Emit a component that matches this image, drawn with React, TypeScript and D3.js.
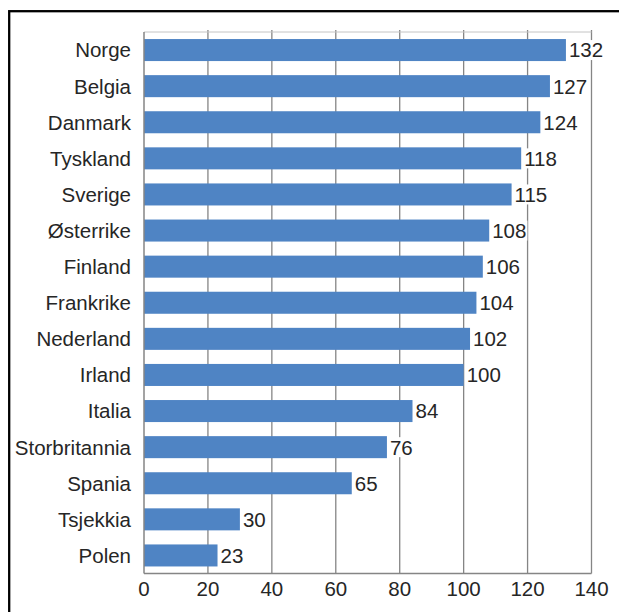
import React, { useEffect, useRef } from 'react';
import * as d3 from 'd3';

const countries = [
  'Norge',
  'Belgia',
  'Danmark',
  'Tyskland',
  'Sverige',
  'Østerrike',
  'Finland',
  'Frankrike',
  'Nederland',
  'Irland',
  'Italia',
  'Storbritannia',
  'Spania',
  'Tsjekkia',
  'Polen',
];

const values = [132, 127, 124, 118, 115, 108, 106, 104, 102, 100, 84, 76, 65, 30, 23];

const xTicks = [0, 20, 40, 60, 80, 100, 120, 140];

const WIDTH = 619;
const HEIGHT = 612;
const FONT = '"Liberation Sans", Arial, sans-serif';
const BAR_COLOR = '#4F84C4';
const GRID_COLOR = '#858585';
const TEXT_COLOR = '#262626';

const App: React.FC = () => {
  const svgRef = useRef<SVGSVGElement>(null);

  useEffect(() => {
    if (!svgRef.current) return;
    const root = d3.select(svgRef.current);
    root.selectAll('*').remove();

    const plot = { left: 144, right: 591.5, top: 32, bottom: 573.5 };

    const x = d3.scaleLinear().domain([0, 140]).range([plot.left, plot.right]);
    const y = d3
      .scaleBand<string>()
      .domain(countries)
      .range([plot.top, plot.bottom])
      .paddingInner(0.39)
      .paddingOuter(0.195);

    root.append('rect').attr('width', WIDTH).attr('height', HEIGHT).attr('fill', '#fff');

    // outer frame (only top and left are inside the picture)
    root
      .append('rect')
      .attr('x', 9.2)
      .attr('y', 11.2)
      .attr('width', WIDTH)
      .attr('height', HEIGHT)
      .attr('fill', 'none')
      .attr('stroke', '#000')
      .attr('stroke-width', 2.3);

    // grid lines
    root
      .append('g')
      .selectAll('line')
      .data(xTicks.slice(1))
      .enter()
      .append('line')
      .attr('x1', (d) => x(d))
      .attr('x2', (d) => x(d))
      .attr('y1', plot.top - 2)
      .attr('y2', plot.bottom)
      .attr('stroke', GRID_COLOR)
      .attr('stroke-width', 1.3);

    // top border of the plot area
    root
      .append('line')
      .attr('x1', plot.left)
      .attr('x2', plot.right)
      .attr('y1', plot.top)
      .attr('y2', plot.top)
      .attr('stroke', '#c4c4c4')
      .attr('stroke-width', 1);

    // bars
    root
      .append('g')
      .selectAll('rect')
      .data(values)
      .enter()
      .append('rect')
      .attr('x', x(0))
      .attr('y', (_d, i) => y(countries[i]) ?? 0)
      .attr('width', (d) => x(d) - x(0))
      .attr('height', y.bandwidth())
      .attr('fill', BAR_COLOR);

    // axes lines
    root
      .append('line')
      .attr('x1', plot.left)
      .attr('x2', plot.left)
      .attr('y1', plot.top)
      .attr('y2', plot.bottom)
      .attr('stroke', GRID_COLOR)
      .attr('stroke-width', 1.5);
    root
      .append('line')
      .attr('x1', plot.left)
      .attr('x2', plot.right)
      .attr('y1', plot.bottom)
      .attr('y2', plot.bottom)
      .attr('stroke', GRID_COLOR)
      .attr('stroke-width', 1.5);

    // value labels with white background
    const fs = 20.5;
    const labels = root.append('g');
    values.forEach((v, i) => {
      const cy = (y(countries[i]) ?? 0) + y.bandwidth() / 2;
      const tx = x(v) + 3;
      const w = String(v).length * fs * 0.556;
      labels
        .append('rect')
        .attr('x', tx - 1)
        .attr('y', cy - 10)
        .attr('width', w + 2)
        .attr('height', 20)
        .attr('fill', '#fff');
      labels
        .append('text')
        .attr('x', tx)
        .attr('y', cy)
        .attr('dy', '0.36em')
        .attr('font-family', FONT)
        .attr('font-size', fs)
        .attr('fill', TEXT_COLOR)
        .text(v);
    });

    // category labels
    root
      .append('g')
      .selectAll('text')
      .data(countries)
      .enter()
      .append('text')
      .attr('x', plot.left - 13)
      .attr('y', (d) => (y(d) ?? 0) + y.bandwidth() / 2)
      .attr('dy', '0.36em')
      .attr('text-anchor', 'end')
      .attr('font-family', FONT)
      .attr('font-size', fs)
      .attr('fill', TEXT_COLOR)
      .text((d) => d);

    // x tick labels
    root
      .append('g')
      .selectAll('text')
      .data(xTicks)
      .enter()
      .append('text')
      .attr('x', (d) => x(d))
      .attr('y', plot.bottom + 15)
      .attr('dy', '0.36em')
      .attr('text-anchor', 'middle')
      .attr('font-family', FONT)
      .attr('font-size', fs)
      .attr('fill', TEXT_COLOR)
      .text((d) => d);
  }, []);

  return (
    <svg
      ref={svgRef}
      width={WIDTH}
      height={HEIGHT}
      style={{ position: 'absolute', left: 0, top: 0, display: 'block' }}
    />
  );
};

export default App;
